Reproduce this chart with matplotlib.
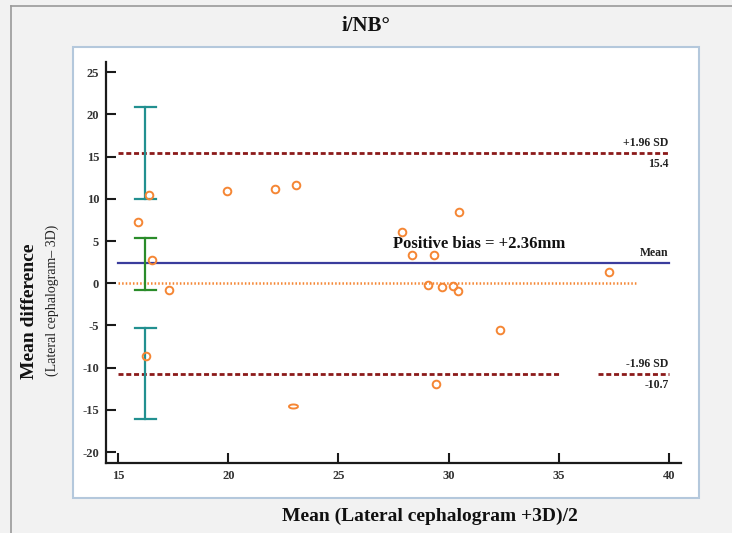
import numpy as np
import matplotlib
matplotlib.use("Agg")
import matplotlib.pyplot as plt
from matplotlib.patches import Rectangle
from matplotlib.lines import Line2D
from matplotlib.path import Path

plt.rcParams['font.family'] = ['Liberation Serif', 'DejaVu Serif']
plt.rcParams['lines.scale_dashes'] = False
plt.rcParams['axes.unicode_minus'] = False

# Bland-Altman data: mean of the two methods vs their difference
means = [15.92, 16.41, 16.56, 17.33, 16.27, 19.94, 22.14, 23.09, 27.90, 28.35,
         29.32, 30.47, 29.07, 29.70, 30.18, 30.41, 32.35, 29.44, 37.30]
diffs = [7.27, 10.50, 2.80, -0.75, -8.65, 10.98, 11.17, 11.69, 6.08, 3.32,
         3.32, 8.49, -0.24, -0.40, -0.36, -0.87, -5.57, -11.90, 1.38]
# one point drawn squashed
flat_mean = [22.94]
flat_diff = [-14.6]

bias = 2.36
upper_loa = 15.4
lower_loa = -10.7
ci_x = 16.23
ci_upper = (10.0, 20.85)
ci_bias = (-0.8, 5.35)
ci_lower = (-16.1, -5.3)

xticks = [15, 20, 25, 30, 35, 40]
yticks = [-20, -15, -10, -5, 0, 5, 10, 15, 20, 25]

fig = plt.figure(figsize=(7.32, 5.33), dpi=100)
fig.patch.set_facecolor('#f2f2f2')

# outer frame and white panel
fig.add_artist(Line2D([0.015, 0.015], [0, 0.9887], color='#9a9a9a', lw=1.2, transform=fig.transFigure))
fig.add_artist(Line2D([0.015, 1.0], [0.9887, 0.9887], color='#9a9a9a', lw=1.2, transform=fig.transFigure))
fig.add_artist(Rectangle((0.0997, 0.0657), 0.8552, 0.8462, transform=fig.transFigure,
                         facecolor='white', edgecolor='#b4c8dc', lw=1.5, zorder=0))

ax = fig.add_axes([0.1448, 0.1313, 0.7855, 0.7523])
ax.set_facecolor('none')
ax.set_xlim(14.45, 40.55)
ax.set_ylim(-21.3, 26.2)
for s in ['top', 'right']:
    ax.spines[s].set_visible(False)
for s in ['left', 'bottom']:
    ax.spines[s].set_linewidth(1.6)
    ax.spines[s].set_color('#1a1a1a')
ax.set_xticks(xticks)
ax.set_yticks(yticks)
ax.tick_params(direction='in', length=7.5, width=1.5, color='#1a1a1a', labelsize=9, pad=5)
for lab in ax.get_xticklabels() + ax.get_yticklabels():
    lab.set_fontweight('bold')
    lab.set_color('#333333')

red = '#8b1a1a'
orange = '#f58634'

# limits of agreement
ax.plot([15, 40], [upper_loa, upper_loa], color=red, lw=2.0, dashes=(3.6, 2.0))
ax.plot([15, 35], [lower_loa, lower_loa], color=red, lw=2.0, dashes=(3.6, 2.0))
ax.plot([36.8, 40], [lower_loa, lower_loa], color=red, lw=2.0, dashes=(3.6, 2.0))
# bias and zero line
ax.plot([15, 40], [bias, bias], color='#3a3c9c', lw=1.6)
ax.plot([15, 38.6], [0, 0], color=orange, lw=1.8, dashes=(1.1, 1.5))

# confidence intervals
cw = 0.48
for (lo, hi), c in [(ci_upper, '#229090'), (ci_bias, '#2a8c2a'), (ci_lower, '#229090')]:
    ax.plot([ci_x, ci_x], [lo, hi], color=c, lw=1.6)
    ax.plot([ci_x - cw, ci_x + cw], [lo, lo], color=c, lw=1.6)
    ax.plot([ci_x - cw, ci_x + cw], [hi, hi], color=c, lw=1.6)

ax.plot(means, diffs, 'o', mfc='none', mec=orange, mew=1.4, ms=5.5, zorder=5)
t = np.linspace(0, 2 * np.pi, 40)
flat_marker = Path(np.column_stack([np.cos(t), 0.45 * np.sin(t)]))
ax.plot(flat_mean, flat_diff, marker=flat_marker, ls='none', mfc='none', mec=orange, mew=1.4, ms=6.5, zorder=5)

# annotations
ax.text(40, upper_loa + 0.45, '+1.96 SD', ha='right', va='bottom', fontsize=8.5, fontweight='bold', color='#222222')
ax.text(40, upper_loa - 0.6, '15.4', ha='right', va='top', fontsize=8.5, fontweight='bold', color='#222222')
ax.text(40, bias + 0.45, 'Mean', ha='right', va='bottom', fontsize=8.5, fontweight='bold', color='#222222')
ax.text(40, lower_loa + 0.45, '-1.96 SD', ha='right', va='bottom', fontsize=8.5, fontweight='bold', color='#222222')
ax.text(40, lower_loa - 0.6, '-10.7', ha='right', va='top', fontsize=8.5, fontweight='bold', color='#222222')
ax.text(31.4, 4.68, 'Positive bias = +2.36mm', ha='center', va='center', fontsize=12, fontweight='bold', color='#111111')

fig.text(0.5, 1 - 26 / 533, 'i/NB°', ha='center', va='center', fontsize=15, fontweight='bold', color='#111111')
fig.text(430 / 732, 1 - 516 / 533, 'Mean (Lateral cephalogram +3D)/2', ha='center', va='center',
         fontsize=14, fontweight='bold', color='#111111')
fig.text(29 / 732, 1 - 311 / 533, 'Mean difference', ha='center', va='center', rotation=90,
         fontsize=14, fontweight='bold', color='#111111')
fig.text(52 / 732, 1 - 300 / 533, '(Lateral cephalogram– 3D)', ha='center', va='center', rotation=90,
         fontsize=10, color='#222222')

fig.savefig('out.png', dpi=100, facecolor=fig.get_facecolor())
